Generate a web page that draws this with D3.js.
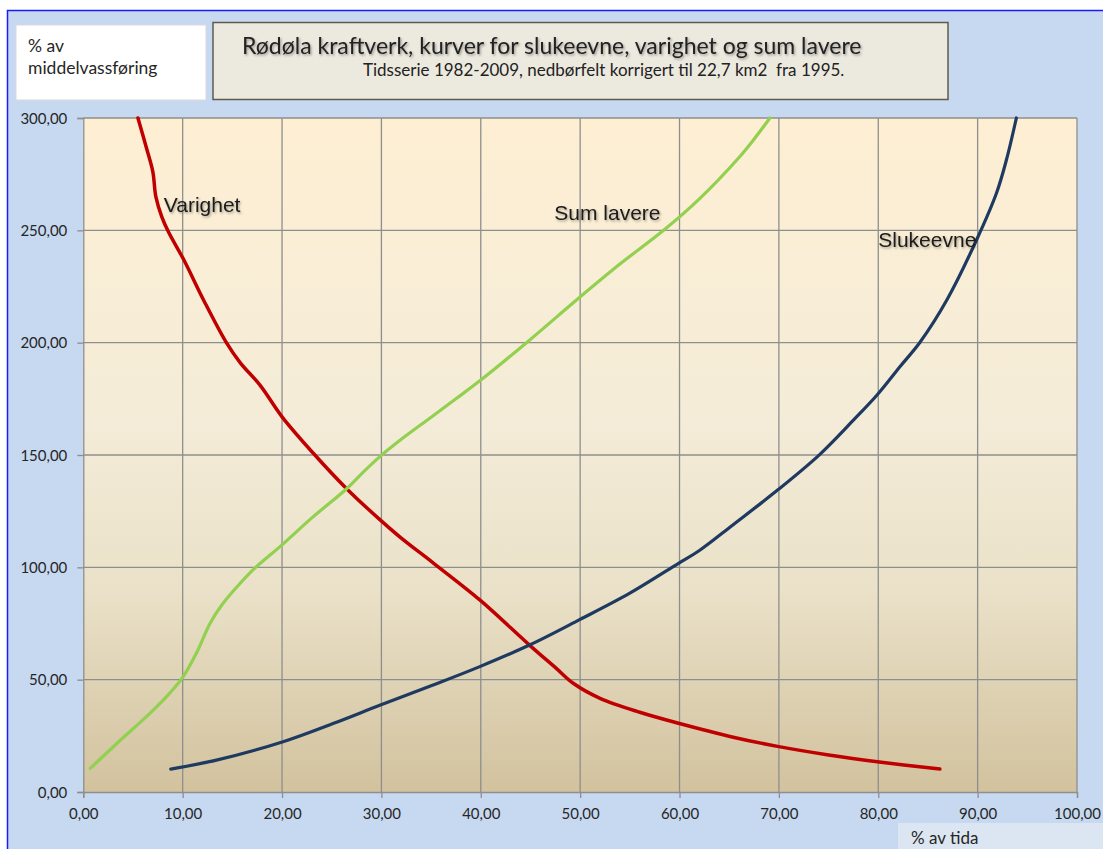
<!DOCTYPE html>
<html><head><meta charset="utf-8">
<script src="https://cdn.jsdelivr.net/npm/d3@7/dist/d3.min.js"></script>
<style>body{margin:0;background:#fff;overflow:hidden}</style>
</head><body>
<script>
// ---- data ----
const xTicks = [0,10,20,30,40,50,60,70,80,90,100];
const yTicks = [0,50,100,150,200,250,300];
const varighet = [[5.5,300],[6.4,286],[7.0,276],[7.3,265],[7.9,256],[8.6,249],[10.1,237],[12.1,219],[14.4,200],[15.8,191],[17.8,181],[20.0,167],[23.1,151],[26.5,135],[29.9,121],[32.0,113],[35.2,102],[39.9,85.5],[44.9,65.4],[47.6,55],[49.3,48.4],[52.0,41.7],[56.0,35.5],[59.9,30.6],[65.4,24.4],[70.0,20.2],[75.0,16.5],[79.9,13.5],[86.2,10.2]];
const sumLavere = [[0.7,10.5],[3.4,21.7],[6.7,35],[8.7,44],[10.0,51],[11.4,62],[12.75,75],[13.9,83],[15.4,91],[17.1,99],[20.0,110],[23.0,122],[26.5,135],[28.2,142.5],[29.9,149.5],[32.0,157],[34.9,166.5],[37.5,175],[39.9,183],[44.6,200],[49.9,220],[54.0,235],[58.4,250],[62.0,264],[66.1,283],[67.4,290],[69.1,300]];
const slukeevne = [[8.8,10.2],[13.4,14.2],[20.1,22.4],[25.2,30.6],[29.9,38.7],[35.2,47.6],[39.9,55.8],[44.9,65.4],[49.9,76.6],[55.0,88.5],[59.9,101.8],[62.0,107.5],[65.4,119],[69.9,134.5],[74.1,150.2],[77.5,165.5],[79.9,176.8],[82.2,189.4],[84.2,200.2],[86.9,219],[89.9,245.8],[91.9,266.6],[92.9,281.4],[93.9,300]];
const seriesNames = ["Varighet","Sum lavere","Slukeevne"];
const titleText = "Rødøla kraftverk, kurver for slukeevne, varighet og sum lavere";
const subtitleText = "Tidsserie 1982-2009, nedbørfelt korrigert til 22,7 km2  fra 1995.";
const yTitleLines = ["% av","middelvassføring"];
const xTitleText = "% av tida";

// ---- drawing ----
const W = 1103, H = 849;
const FONT = "Lato, 'Open Sans', sans-serif";
const svg = d3.select("body").append("svg").attr("width",W).attr("height",H);
const defs = svg.append("defs");
const grad = defs.append("linearGradient").attr("id","bg").attr("x1",0).attr("y1",0).attr("x2",0).attr("y2",1);
[[0,"#FEEFD3"],[0.45,"#F4ECD8"],[0.7,"#EAE1C8"],[1,"#D2C29E"]].forEach(s=>grad.append("stop").attr("offset",s[0]).attr("stop-color",s[1]));
const sh = defs.append("filter").attr("id","shadow").attr("x","-10%").attr("y","-30%").attr("width","130%").attr("height","170%");
sh.append("feDropShadow").attr("dx",1.2).attr("dy",1.5).attr("stdDeviation",1.2).attr("flood-color","#000").attr("flood-opacity",0.35);

// outer frame
svg.append("rect").attr("x",7.5).attr("y",10.5).attr("width",W).attr("height",H).attr("fill","#C6D9F0").attr("stroke","#1a1aff").attr("stroke-width",1.5);

const x = d3.scaleLinear().domain([0,100]).range([83.3,1077]);
const y = d3.scaleLinear().domain([0,300]).range([792,118]);

const g = svg.append("g");
g.append("rect").attr("x",x(0)).attr("y",y(300)).attr("width",x(100)-x(0)).attr("height",y(0)-y(300)).attr("fill","url(#bg)");

// grid
g.append("g").selectAll("line").data(xTicks.filter(d=>d>0)).join("line")
  .attr("x1",d=>x(d)).attr("x2",d=>x(d)).attr("y1",y(0)).attr("y2",y(300))
  .attr("stroke","#8e8e8e").attr("stroke-width",1.3);
g.append("g").selectAll("line").data(yTicks.filter(d=>d>0)).join("line")
  .attr("x1",x(0)).attr("x2",x(100)).attr("y1",d=>y(d)).attr("y2",d=>y(d))
  .attr("stroke","#8e8e8e").attr("stroke-width",1.3);

// axes
const fmt = d=>d3.format(".2f")(d).replace(".",",");
const yAxis = g.append("g").attr("transform",`translate(${x(0)},0)`).call(d3.axisLeft(y).tickValues(yTicks).tickFormat(fmt).tickSize(6).tickPadding(10));
const xAxis = g.append("g").attr("transform",`translate(0,${y(0)})`).call(d3.axisBottom(x).tickValues(xTicks).tickFormat(fmt).tickSize(6).tickPadding(10));
[yAxis,xAxis].forEach(a=>{
  a.select(".domain").attr("stroke","#8e8e8e").attr("stroke-width",1.3);
  a.selectAll(".tick line").attr("stroke","#8e8e8e").attr("stroke-width",1.3);
  a.selectAll("text").attr("fill","#262626").style("font-family",FONT).style("font-size","15px");
});
yAxis.selectAll("text").attr("dy","0.35em");

// lines
const line = d3.line().x(d=>x(d[0])).y(d=>y(d[1])).curve(d3.curveCatmullRom.alpha(0.5));
const series = [
  {data:varighet, color:"#C00000", w:3.5},
  {data:sumLavere, color:"#92D050", w:3.2},
  {data:slukeevne, color:"#1F3A60", w:3.2}
];
g.append("g").selectAll("path").data(series).join("path")
  .attr("d",d=>line(d.data)).attr("fill","none").attr("stroke",d=>d.color)
  .attr("stroke-width",d=>d.w).attr("stroke-linecap","round").attr("stroke-linejoin","round");

// curve labels (anchored in data coordinates)
const labelAnchors = [[8.1,258.2],[47.4,254.7],[80.0,242.4]];
g.append("g").selectAll("text").data(seriesNames).join("text")
  .attr("x",(d,i)=>x(labelAnchors[i][0])).attr("y",(d,i)=>y(labelAnchors[i][1]))
  .text(d=>d).attr("fill","#1a1a1a").attr("filter","url(#shadow)")
  .style("font-family","'Liberation Sans', Arial, sans-serif").style("font-size","21px");

// y-title box
svg.append("rect").attr("x",16).attr("y",25).attr("width",190).attr("height",75).attr("fill","#fff").attr("stroke","#d9d9d9");
svg.append("g").selectAll("text").data(yTitleLines).join("text")
  .attr("x",28).attr("y",(d,i)=>52+i*22).text(d=>d).attr("fill","#262626")
  .style("font-family",FONT).style("font-size","17.5px");

// title box
svg.append("rect").attr("x",213).attr("y",22.5).attr("width",735).attr("height",77).attr("fill","#ECE9DF").attr("stroke","#5f5b4c").attr("stroke-width",1.5);
svg.append("text").attr("x",242).attr("y",54).text(titleText).attr("fill","#222").attr("filter","url(#shadow)")
  .style("font-family",FONT).style("font-size","23px");
svg.append("text").attr("x",363).attr("y",76).text(subtitleText).attr("fill","#222")
  .style("white-space","pre")
  .style("font-family",FONT).style("font-size","17px");

// x-title box
svg.append("rect").attr("x",898).attr("y",823).attr("width",210).attr("height",40).attr("fill","#DCE6F2");
svg.append("text").attr("x",911).attr("y",844).text(xTitleText).attr("fill","#262626")
  .style("font-family",FONT).style("font-size","17px");
</script>
</body></html>
